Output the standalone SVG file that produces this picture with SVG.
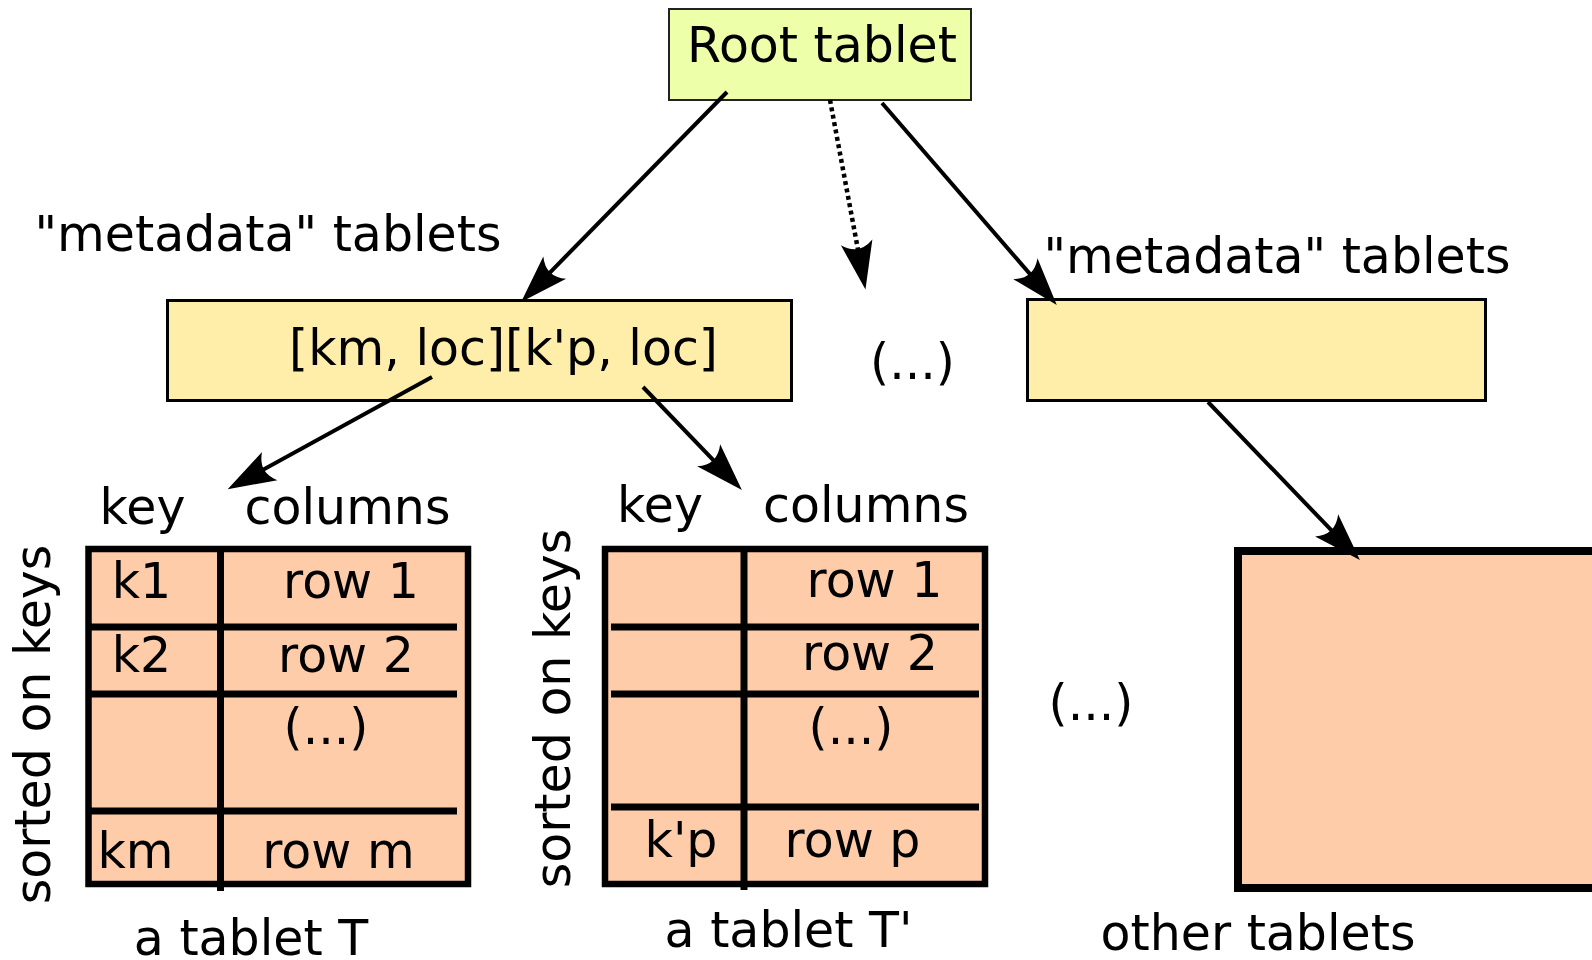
<svg xmlns="http://www.w3.org/2000/svg" width="1592" height="960" viewBox="0 0 1592 960">
  <defs>
    <style>
      text { font-family: "DejaVu Sans", "Liberation Sans", sans-serif; font-size: 49px; fill: #000; text-anchor: middle; }
      .root { fill: #eeffaa; stroke: #222; stroke-width: 2; }
      .meta { fill: #ffeeaa; stroke: #000; stroke-width: 3; }
      .tab { fill: #ffccaa; stroke: #000; stroke-width: 6.5; }
      .other { fill: #ffccaa; stroke: #000; stroke-width: 8; }
      .grid { stroke: #000; stroke-width: 7; fill: none; }
      .arrow { stroke: #000; stroke-width: 4; fill: none; marker-end: url(#head); }
      .dotted { stroke-width: 4.5; stroke-dasharray: 4 3.5; }
    </style>
    <marker id="head" markerUnits="userSpaceOnUse" markerWidth="60" markerHeight="40" viewBox="-30 -15 45 30" refX="0" refY="0" orient="auto" overflow="visible">
      <path d="M8,0 L-28,-12 Q-18,0 -28,12 Z" fill="#000"/>
    </marker>
  </defs>

  <g id="root-tablet">
    <rect class="root" x="669" y="9" width="302" height="91"/>
    <text x="822" y="62">Root tablet</text>
  </g>

  <g id="metadata-left">
    <text x="268" y="251">"metadata" tablets</text>
    <rect class="meta" x="167.5" y="300.5" width="624" height="100"/>
    <text x="503.5" y="365">[km, loc][k'p, loc]</text>
  </g>

  <g id="metadata-ellipsis">
    <text x="912.5" y="379">(...)</text>
  </g>

  <g id="metadata-right">
    <text x="1277" y="273">"metadata" tablets</text>
    <rect class="meta" x="1027.5" y="299.5" width="458" height="101"/>
  </g>

  <g id="tablet-t">
    <rect class="tab" x="88.5" y="549" width="379.5" height="335"/>
    <line class="grid" x1="220.5" y1="549" x2="220.5" y2="891"/>
    <line class="grid" x1="90" y1="627" x2="457" y2="627"/>
    <line class="grid" x1="90" y1="694" x2="457" y2="694"/>
    <line class="grid" x1="90" y1="811" x2="457" y2="811"/>
    <text x="142.5" y="524">key</text>
    <text x="347.5" y="524">columns</text>
    <text x="141.5" y="598">k1</text>
    <text x="351" y="598">row 1</text>
    <text x="141.5" y="672">k2</text>
    <text x="346" y="672">row 2</text>
    <text x="326" y="743.5">(...)</text>
    <text x="135.5" y="868">km</text>
    <text x="338.5" y="868">row m</text>
    <text transform="translate(50,724.5) rotate(-90)">sorted on keys</text>
    <text x="251" y="955">a tablet T</text>
  </g>

  <g id="tablet-t-prime">
    <rect class="tab" x="605" y="549" width="380" height="335"/>
    <line class="grid" x1="744" y1="549" x2="744" y2="890"/>
    <line class="grid" x1="611" y1="627" x2="979" y2="627"/>
    <line class="grid" x1="611" y1="694" x2="979" y2="694"/>
    <line class="grid" x1="611" y1="807" x2="979" y2="807"/>
    <text x="660" y="522">key</text>
    <text x="866" y="522">columns</text>
    <text x="874.5" y="597">row 1</text>
    <text x="870" y="670">row 2</text>
    <text x="851" y="743.5">(...)</text>
    <text x="681" y="857">k'p</text>
    <text x="852.5" y="857">row p</text>
    <text transform="translate(570,708.5) rotate(-90)">sorted on keys</text>
    <text x="788.5" y="947">a tablet T'</text>
  </g>

  <g id="tablets-ellipsis">
    <text x="1091" y="719.5">(...)</text>
  </g>

  <g id="other-tablets">
    <rect class="other" x="1238" y="551" width="370" height="337"/>
    <text x="1258" y="950">other tablets</text>
  </g>

  <g id="connectors">
    <line class="arrow" x1="727" y1="92" x2="528.6" y2="294.3"/>
    <line class="arrow dotted" x1="830" y1="100" x2="863.5" y2="279.1"/>
    <line class="arrow" x1="882" y1="103" x2="1049.8" y2="297"/>
    <line class="arrow" x1="432" y1="377" x2="237" y2="484.1"/>
    <line class="arrow" x1="643" y1="387" x2="734.5" y2="482.2"/>
    <line class="arrow" x1="1208" y1="402" x2="1352.5" y2="552.2"/>
  </g>
</svg>
